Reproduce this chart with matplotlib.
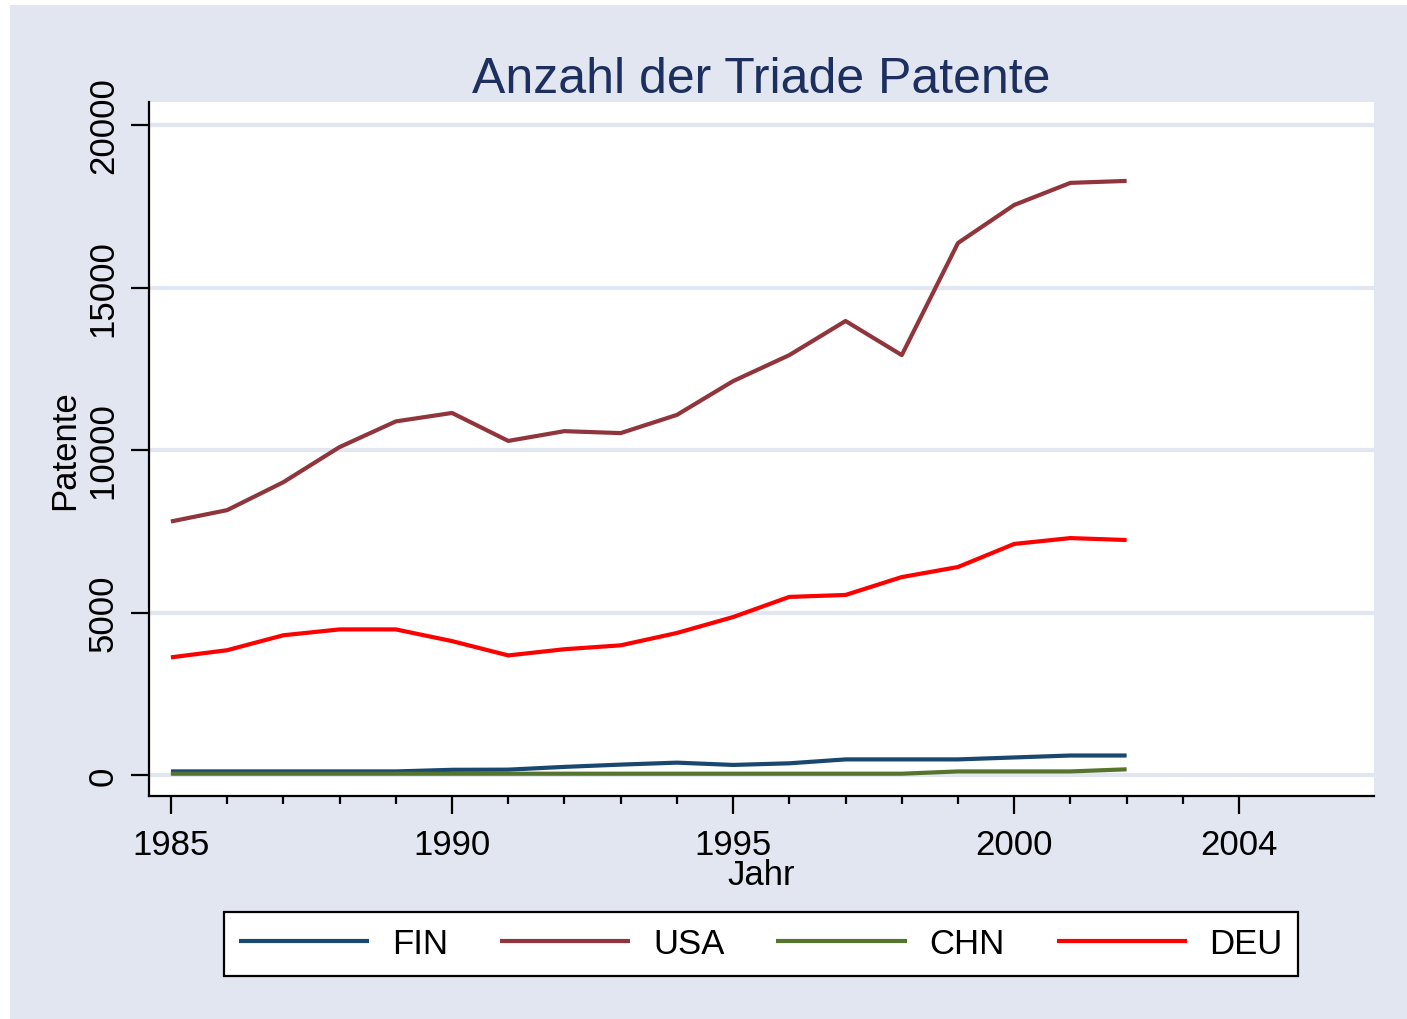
import matplotlib.pyplot as plt
from matplotlib.patches import Rectangle

plt.rcParams['font.family'] = ['Liberation Sans', 'DejaVu Sans']

# Triade patents per year
years = list(range(1985, 2003))
fin = [110, 110, 110, 110, 110, 160, 165, 250, 320, 380, 310, 360, 480, 480, 480, 540, 600, 600]
usa = [7800, 8150, 9010, 10090, 10880, 11140, 10280, 10580, 10520, 11080,
       12120, 12920, 13970, 12920, 16370, 17540, 18220, 18280]
chn = [40, 40, 40, 40, 40, 40, 40, 40, 40, 40, 40, 40, 40, 40, 110, 110, 110, 175]
deu = [3620, 3840, 4300, 4480, 4480, 4120, 3680, 3870, 3990, 4370,
       4860, 5480, 5540, 6090, 6400, 7110, 7290, 7230]

series = [("FIN", fin, "#1a476f"), ("USA", usa, "#90353b"),
          ("CHN", chn, "#55752f"), ("DEU", deu, "#ff0000")]

bg = "#e1e6f0"
fig = plt.figure(figsize=(14.07, 10.20), dpi=100)
fig.patch.set_facecolor("white")
fig.patches.append(Rectangle((10 / 1407, 0), 1, 1 - 6 / 1020, transform=fig.transFigure,
                             facecolor=bg, edgecolor="none", zorder=-10))

ax = fig.add_axes([149 / 1407, 1 - 797 / 1020, (1374 - 149) / 1407, (797 - 103) / 1020])
ax.set_facecolor("white")

for name, vals, col in series:
    ax.plot(years, vals, color=col, lw=3.0, label=name, solid_capstyle="butt")

ax.set_xlim(1984.61, 2006.4)
ax.set_ylim(-646, 20708)
ax.set_xticks([1985, 1990, 1995, 2000, 2004])
ax.set_xticks([y for y in range(1986, 2004) if y not in (1990, 1995, 2000)], minor=True)
ax.set_yticks([0, 5000, 10000, 15000, 20000])
ax.grid(axis="y", color=bg, lw=3)
ax.set_axisbelow(True)

for s in ["top", "right"]:
    ax.spines[s].set_visible(False)
for s in ["left", "bottom"]:
    ax.spines[s].set_linewidth(1.6)

ax.tick_params(axis="both", which="major", labelsize=25, length=13, width=1.6, direction="out")
ax.tick_params(axis="x", which="minor", length=6, width=1.6)
ax.tick_params(axis="x", which="major", pad=10)
ax.tick_params(axis="y", pad=8)
for lab in ax.get_yticklabels():
    lab.set_rotation(90)
    lab.set_va("center")

ax.set_xlabel("Jahr", fontsize=25, labelpad=-2)
ax.set_ylabel("Patente", fontsize=25, labelpad=4)
ax.set_title("Anzahl der Triade Patente", fontsize=36, color="#1c2f5e", pad=5)

leg = fig.legend(loc="center", bbox_to_anchor=(761 / 1407, 1 - 945 / 1020), ncol=4,
                 fontsize=25, handlelength=3.75, handletextpad=0.65, columnspacing=1.5,
                 frameon=True, fancybox=False, borderpad=0.45, framealpha=1)
leg.get_frame().set_edgecolor("black")
leg.get_frame().set_linewidth(1.6)
for line in leg.get_lines():
    line.set_linewidth(3.0)

fig.savefig("out.png", dpi=100, facecolor=fig.get_facecolor())
